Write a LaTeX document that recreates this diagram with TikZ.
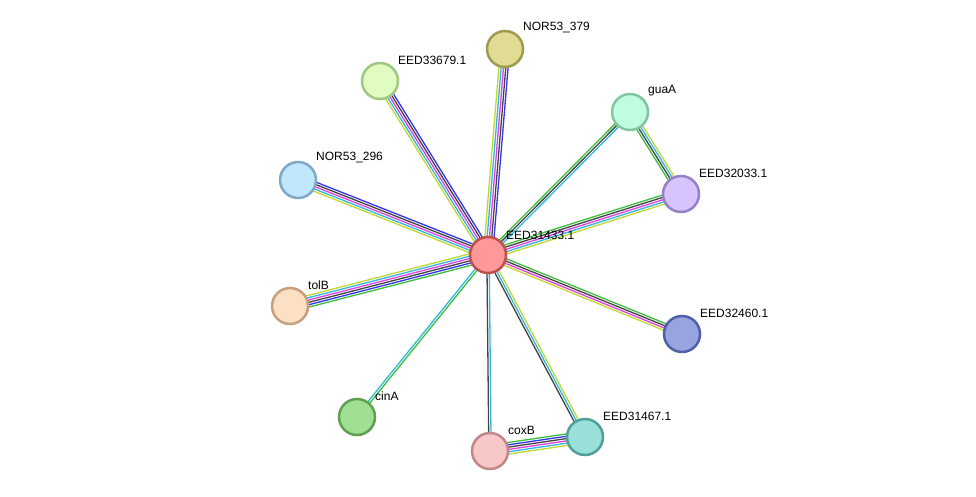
\documentclass[tikz,border=0pt]{standalone}
\usepackage{fontspec}
\setmainfont{Liberation Sans}
\usetikzlibrary{calc}
\definecolor{qg}{HTML}{3DBE3D}
\definecolor{qb}{HTML}{3333F0}
\definecolor{qk}{HTML}{444444}
\definecolor{qm}{HTML}{E040E0}
\definecolor{qc}{HTML}{30B8E0}
\definecolor{qy}{HTML}{C0D830}
\tikzset{
 nd/.style={circle,minimum size=36pt,inner sep=0pt,line width=2.5pt},
 lb/.style={anchor=west,font=\fontsize{12}{12}\selectfont,inner sep=0pt},
 ed/.style={line width=1.3pt}
}
\newcommand{\medge}[3]{% from, to, colour list
 \foreach \c [count=\i] in {#3} {\xdef\nn{\i}}
 \foreach \c [count=\i] in {#3} {
  \pgfmathsetmacro{\off}{(\i-(\nn+1)/2)*2.3}
  \draw[ed,draw=\c] ($(#1)!\off pt!90:(#2)$) -- ($(#2)!\off pt!-90:(#1)$);
 }}
\begin{document}
\begin{tikzpicture}[x=1pt,y=-1pt]
\useasboundingbox[fill=white] (0,0) rectangle (976,497);
\coordinate (c) at (488,255);
\coordinate (n379) at (505,49);
\coordinate (e33679) at (380,81);
\coordinate (guaA) at (630,112);
\coordinate (n296) at (298,180);
\coordinate (e32033) at (681,194);
\coordinate (tolB) at (290,306);
\coordinate (e32460) at (682,334);
\coordinate (cinA) at (357,417);
\coordinate (coxB) at (490,451);
\coordinate (e31467) at (585,437);
\medge{c}{n379}{qb,qk,qm,qc,qy}
\medge{c}{e33679}{qb,qk,qm,qc,qy}
\medge{c}{n296}{qb,qk,qm,qc,qy}
\medge{c}{tolB}{qy,qc,qm,qk,qb,qg}
\medge{c}{cinA}{qc,qg}
\medge{c}{coxB}{qk,qc}
\medge{c}{e31467}{qk,qc,qy}
\medge{c}{e32460}{qy,qm,qk,qg}
\medge{c}{e32033}{qy,qc,qm,qk,qg}
\medge{c}{guaA}{qc,qk,qg}
\medge{guaA}{e32033}{qg,qk,qc,qy}
\medge{coxB}{e31467}{qy,qc,qm,qk,qb,qg}
\node[nd,fill={rgb,255:red,255;green,153;blue,153},draw={rgb,255:red,192;green,80;blue,80}] (C) at (c) {};
\node[nd,fill={rgb,255:red,224;green,220;blue,148},draw={rgb,255:red,160;green,154;blue,80}] (N379) at (n379) {};
\node[nd,fill={rgb,255:red,224;green,252;blue,192},draw={rgb,255:red,160;green,200;blue,128}] (E33679) at (e33679) {};
\node[nd,fill={rgb,255:red,192;green,252;blue,224},draw={rgb,255:red,128;green,200;blue,160}] (GUAA) at (guaA) {};
\node[nd,fill={rgb,255:red,192;green,232;blue,252},draw={rgb,255:red,128;green,168;blue,200}] (N296) at (n296) {};
\node[nd,fill={rgb,255:red,216;green,196;blue,252},draw={rgb,255:red,152;green,128;blue,200}] (E32033) at (e32033) {};
\node[nd,fill={rgb,255:red,252;green,224;blue,196},draw={rgb,255:red,200;green,160;blue,128}] (TOLB) at (tolB) {};
\node[nd,fill={rgb,255:red,152;green,164;blue,224},draw={rgb,255:red,80;green,96;blue,168}] (E32460) at (e32460) {};
\node[nd,fill={rgb,255:red,160;green,224;blue,148},draw={rgb,255:red,96;green,160;blue,80}] (CINA) at (cinA) {};
\node[nd,fill={rgb,255:red,248;green,200;blue,200},draw={rgb,255:red,192;green,136;blue,136}] (COXB) at (coxB) {};
\node[nd,fill={rgb,255:red,152;green,224;blue,216},draw={rgb,255:red,80;green,160;blue,152}] (E31467) at (e31467) {};
\node[lb] (lC) at (506,235) {EED31433.1};
\node[lb] (l379) at (523,28) {NOR53\_379};
\node[lb] (l33679) at (398,60) {EED33679.1};
\node[lb] (lguaA) at (648,91) {guaA};
\node[lb] (l296) at (316,158) {NOR53\_296};
\node[lb] (l32033) at (699,173) {EED32033.1};
\node[lb] (ltolB) at (308,285) {tolB};
\node[lb] (l32460) at (700,313) {EED32460.1};
\node[lb] (lcinA) at (375,396) {cinA};
\node[lb] (lcoxB) at (508,430) {coxB};
\node[lb] (l31467) at (603,416) {EED31467.1};
\end{tikzpicture}
\end{document}
